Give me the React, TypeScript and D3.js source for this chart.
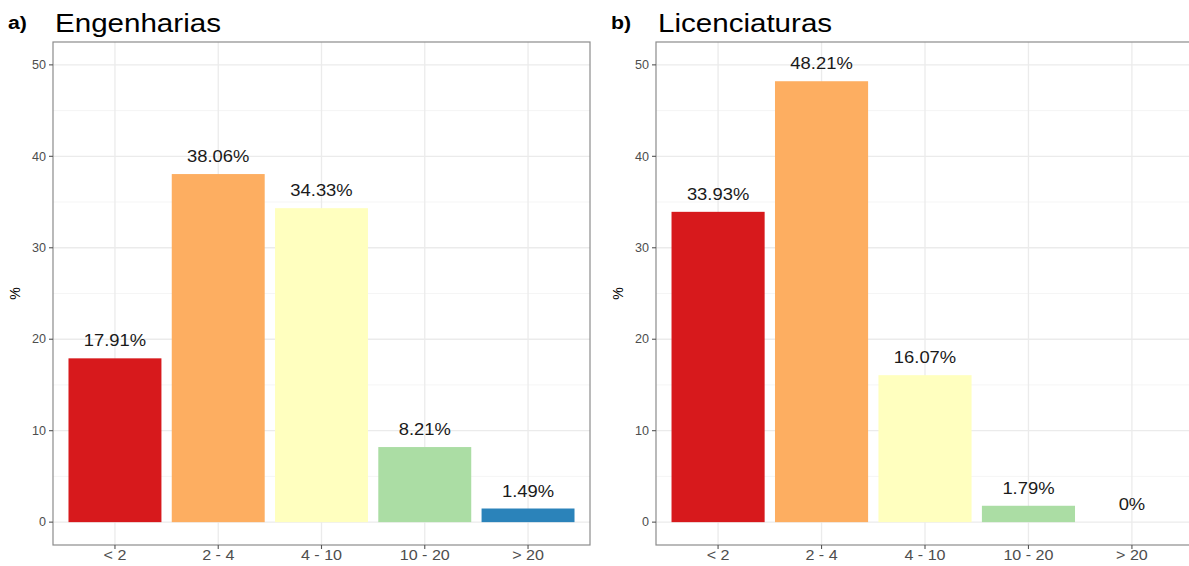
import React from "react";
import * as d3 from "d3";

const categories = ["< 2", "2 - 4", "4 - 10", "10 - 20", "> 20"];
const engenhariasValues = [17.91, 38.06, 34.33, 8.21, 1.49];
const licenciaturasValues = [33.93, 48.21, 16.07, 1.79, 0];
const barColors = ["#d7191c", "#fdae61", "#ffffbf", "#abdda4", "#2b83ba"];
const yTicks = [0, 10, 20, 30, 40, 50];
const yMinorTicks = [5, 15, 25, 35, 45];

const W = 1189;
const H = 566;
const FONT = "'Liberation Sans', Arial, Helvetica, sans-serif";
const SX = 1.15;

type PanelProps = {
  tag: string;
  title: string;
  values: number[];
  left: number;
  right: number;
  tagX: number;
};

function Panel({ tag, title, values, left, right, tagX }: PanelProps) {
  const top = 42;
  const bottom = 545;
  const y = d3.scaleLinear().domain([-2.5, 52.5]).range([bottom, top]);
  const x = d3
    .scaleBand<string>()
    .domain(categories)
    .range([left, right])
    .paddingInner(0.1)
    .paddingOuter(0.15);
  const bw = x.bandwidth();
  const cx = (c: string) => (x(c) as number) + bw / 2;
  return (
    <g>
      <text
        transform={`translate(${tagX},29) scale(${SX},1)`}
        fontFamily={FONT}
        fontWeight="bold"
        fontSize={18.5}
        fill="#000"
      >
        {tag}
      </text>
      <text transform={`translate(${left + 2},32) scale(${SX},1)`} fontFamily={FONT} fontSize={25.7} fill="#000">
        {title}
      </text>
      <defs>
        <clipPath id={"clip-" + tag}>
          <rect x={left} y={top} width={right - left} height={bottom - top} />
        </clipPath>
      </defs>
      <g clipPath={`url(#clip-${tag})`}>
        <rect x={left} y={top} width={right - left} height={bottom - top} fill="#fff" />
        {yMinorTicks.map((t) => (
          <line key={"m" + t} x1={left} x2={right} y1={y(t)} y2={y(t)} stroke="#f2f2f2" strokeWidth={0.8} />
        ))}
        {yTicks.map((t) => (
          <line key={"M" + t} x1={left} x2={right} y1={y(t)} y2={y(t)} stroke="#ebebeb" strokeWidth={1.3} />
        ))}
        {categories.map((c) => (
          <line key={"v" + c} x1={cx(c)} x2={cx(c)} y1={top} y2={bottom} stroke="#ebebeb" strokeWidth={1.3} />
        ))}
        {values.map((v, i) => (
          <rect
            key={"b" + i}
            x={x(categories[i]) as number}
            y={y(v)}
            width={bw}
            height={y(0) - y(v)}
            fill={barColors[i]}
          />
        ))}
        {values.map((v, i) => (
          <text
            key={"l" + i}
            transform={`translate(${cx(categories[i])},${y(v) - 12}) scale(${SX},1)`}
            textAnchor="middle"
            fontFamily={FONT}
            fontSize={16}
            fill="#1a1a1a"
          >
            {`${v}%`}
          </text>
        ))}
      </g>
      <rect x={left} y={top} width={right - left} height={bottom - top} fill="none" stroke="#8c8c8c" strokeWidth={1.2} />
      {yTicks.map((t) => (
        <g key={"yt" + t}>
          <line x1={left - 4} x2={left} y1={y(t)} y2={y(t)} stroke="#555" strokeWidth={1.1} />
          <text
            transform={`translate(${left - 7},${y(t)}) scale(1.05,1)`}
            dy="0.35em"
            textAnchor="end"
            fontFamily={FONT}
            fontSize={12}
            fill="#4d4d4d"
          >
            {t}
          </text>
        </g>
      ))}
      {categories.map((c) => (
        <g key={"xt" + c}>
          <line x1={cx(c)} x2={cx(c)} y1={bottom} y2={bottom + 4} stroke="#555" strokeWidth={1.1} />
          <text
            transform={`translate(${cx(c)},${bottom + 14.5}) scale(${SX},1)`}
            textAnchor="middle"
            fontFamily={FONT}
            fontSize={14}
            fill="#4d4d4d"
          >
            {c}
          </text>
        </g>
      ))}
      <text
        transform={`translate(${left - 33},${(top + bottom) / 2}) rotate(-90)`}
        textAnchor="middle"
        fontFamily={FONT}
        fontSize={14}
        fill="#000"
      >
        %
      </text>
    </g>
  );
}

export default function App() {
  return (
    <svg
      width={W}
      height={H}
      viewBox={`0 0 ${W} ${H}`}
      style={{ position: "absolute", left: 0, top: 0, display: "block", background: "#fff" }}
    >
      <rect x={0} y={0} width={W} height={H} fill="#fff" />
      <Panel tag="a)" title="Engenharias" values={engenhariasValues} left={53} right={590} tagX={8} />
      <Panel tag="b)" title="Licenciaturas" values={licenciaturasValues} left={656} right={1194} tagX={611} />
    </svg>
  );
}
